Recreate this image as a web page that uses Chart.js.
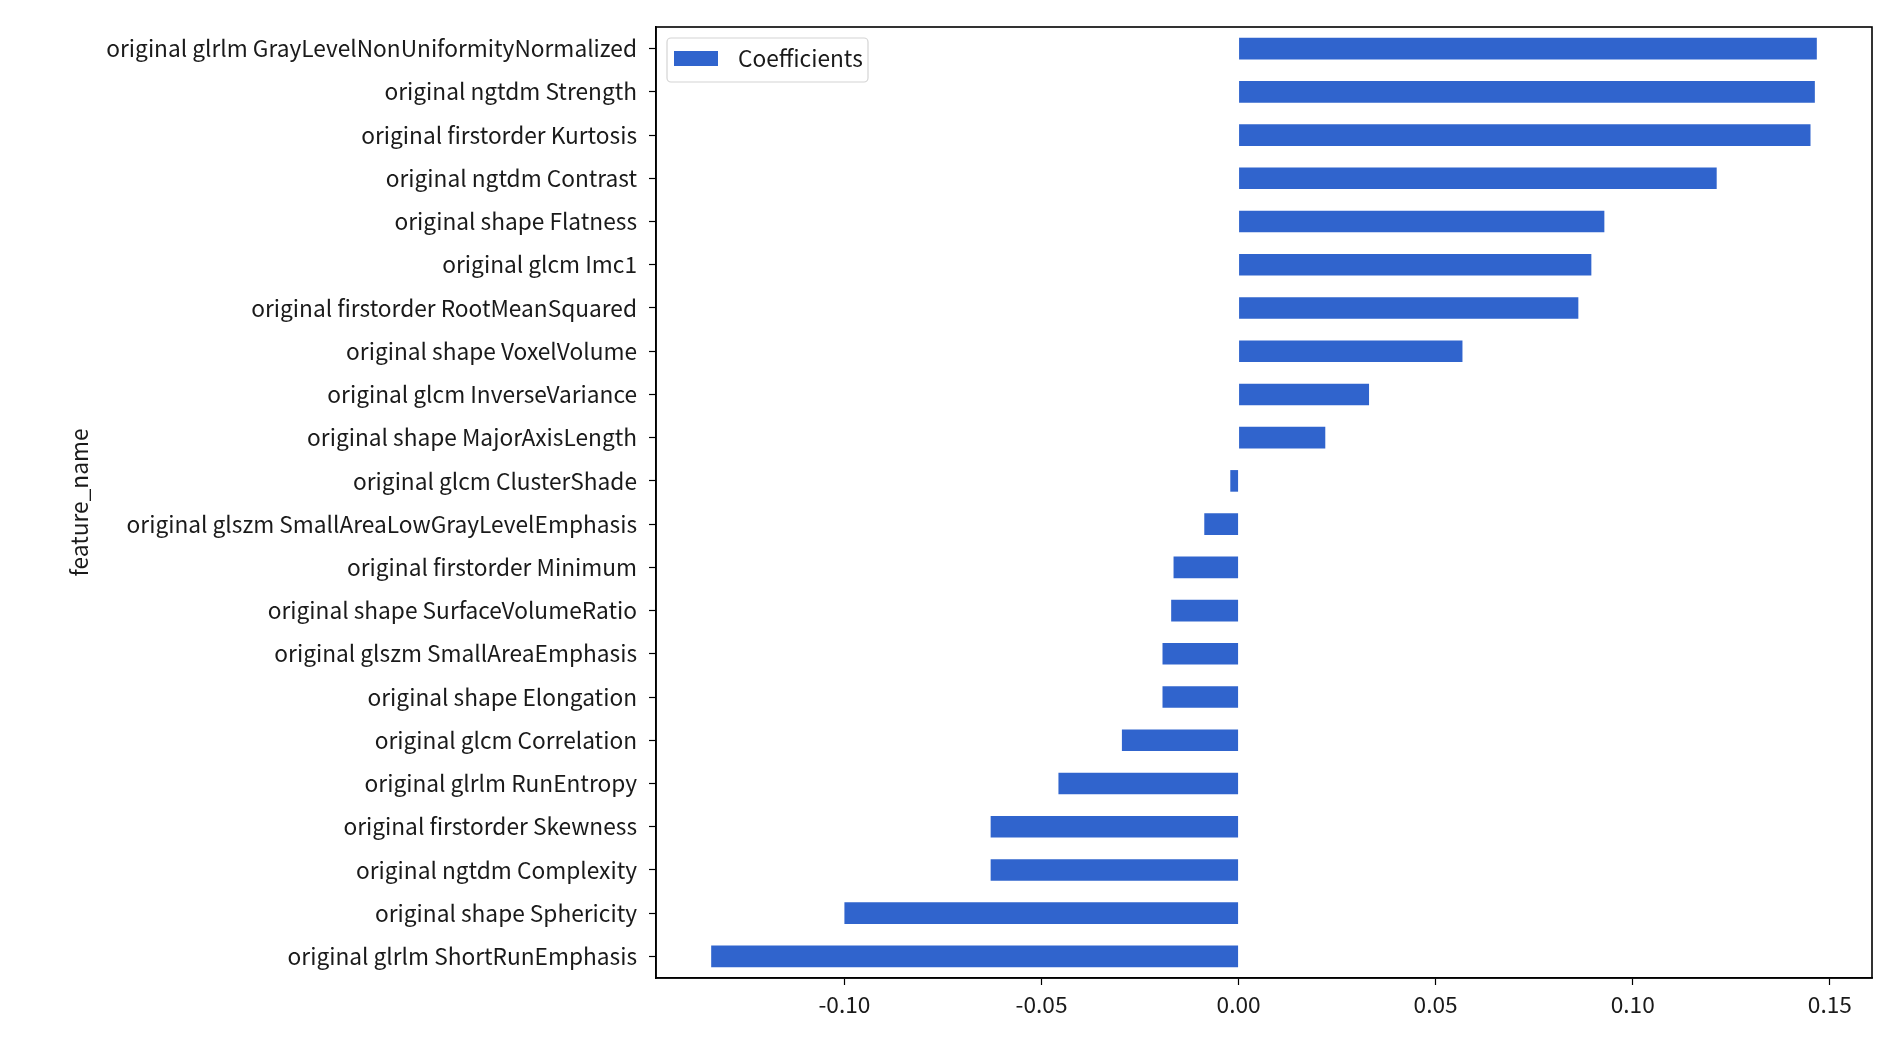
<!DOCTYPE html>
<html>
<head>
<meta charset="utf-8">
<script src="https://cdn.jsdelivr.net/npm/chart.js@4"></script>
<style>
  html, body { margin: 0; padding: 0; background: #ffffff; }
  #wrap { position: relative; width: 1890px; height: 1057px; }
</style>
</head>
<body>
<div id="wrap"><canvas id="c"></canvas></div>
<script>
const categories = [
  "original glrlm GrayLevelNonUniformityNormalized",
  "original ngtdm Strength",
  "original firstorder Kurtosis",
  "original ngtdm Contrast",
  "original shape Flatness",
  "original glcm Imc1",
  "original firstorder RootMeanSquared",
  "original shape VoxelVolume",
  "original glcm InverseVariance",
  "original shape MajorAxisLength",
  "original glcm ClusterShade",
  "original glszm SmallAreaLowGrayLevelEmphasis",
  "original firstorder Minimum",
  "original shape SurfaceVolumeRatio",
  "original glszm SmallAreaEmphasis",
  "original shape Elongation",
  "original glcm Correlation",
  "original glrlm RunEntropy",
  "original firstorder Skewness",
  "original ngtdm Complexity",
  "original shape Sphericity",
  "original glrlm ShortRunEmphasis"
];
const coefficients = [
  0.1467, 0.1462, 0.1451, 0.1213, 0.0928, 0.0895, 0.0862, 0.0568, 0.0331, 0.0220,
  -0.0021, -0.0087, -0.0165, -0.0171, -0.0193, -0.0193, -0.0296, -0.0457,
  -0.0629, -0.0629, -0.1000, -0.1338
];
const xTicks = [-0.10, -0.05, 0.00, 0.05, 0.10, 0.15];
const seriesName = "Coefficients";
const axisTitle = "feature_name";

const FONT_FAMILY = "'Noto Sans CJK KR', 'Noto Sans', sans-serif";
// choose font size so the longest label matches reference width (~532px)
const mc = document.createElement('canvas').getContext('2d');
mc.font = "18px " + FONT_FAMILY;
const w18 = mc.measureText(categories[0]).width;
const FONT_SIZE = Math.round(18 * 532 / w18 * 10) / 10;

const TEXT = '#1a1a1a';
const BAR = '#3064CD';

const framePlugin = {
  id: 'frame',
  afterDraw(chart) {
    const {ctx, chartArea: a} = chart;
    ctx.save();
    ctx.strokeStyle = '#000';
    ctx.lineWidth = 1.6;
    ctx.strokeRect(a.left, a.top, a.right - a.left, a.bottom - a.top);
    // legend
    const lx = a.left + 11, ly = a.top + 11, lw = 201, lh = 44;
    ctx.beginPath();
    const r = 4;
    ctx.moveTo(lx + r, ly);
    ctx.arcTo(lx + lw, ly, lx + lw, ly + lh, r);
    ctx.arcTo(lx + lw, ly + lh, lx, ly + lh, r);
    ctx.arcTo(lx, ly + lh, lx, ly, r);
    ctx.arcTo(lx, ly, lx + lw, ly, r);
    ctx.closePath();
    ctx.fillStyle = 'rgba(255,255,255,0.9)';
    ctx.fill();
    ctx.strokeStyle = '#d4d4d4';
    ctx.lineWidth = 1.2;
    ctx.stroke();
    ctx.fillStyle = BAR;
    ctx.fillRect(lx + 7, ly + 13, 44, 15);
    ctx.fillStyle = TEXT;
    ctx.font = FONT_SIZE + "px " + FONT_FAMILY;
    ctx.textBaseline = 'middle';
    ctx.textAlign = 'left';
    ctx.fillText(seriesName, lx + 71, ly + lh / 2 - 2);
    ctx.restore();
  }
};

new Chart(document.getElementById('c'), {
  type: 'bar',
  data: {
    labels: categories,
    datasets: [{
      label: seriesName,
      data: coefficients,
      backgroundColor: BAR,
      borderWidth: 0,
      barPercentage: 0.5,
      categoryPercentage: 1.0
    }]
  },
  plugins: [framePlugin],
  options: {
    indexAxis: 'y',
    responsive: true,
    maintainAspectRatio: false,
    animation: false,
    devicePixelRatio: 1,
    layout: { padding: { top: 27, right: 18, bottom: 0, left: 0 } },
    plugins: {
      legend: { display: false },
      tooltip: { enabled: false },
      title: { display: false }
    },
    scales: {
      x: {
        type: 'linear',
        min: -0.1478,
        max: 0.1607,
        afterBuildTicks(scale) { scale.ticks = xTicks.map(v => ({ value: v })); },
        afterFit(scale) { scale.height = 1057 - 978; },
        grid: { drawOnChartArea: false, drawTicks: true, tickLength: 7, color: '#000', tickWidth: 1.2 },
        border: { display: true, color: '#000', width: 1.6 },
        ticks: {
          color: TEXT,
          font: { family: FONT_FAMILY, size: FONT_SIZE },
          padding: 6,
          maxRotation: 0,
          callback: (v) => Number(v).toFixed(2)
        }
      },
      y: {
        type: 'category',
        afterFit(scale) { scale.width = 656; },
        grid: { offset: false, drawOnChartArea: false, drawTicks: true, tickLength: 7, color: '#000', tickWidth: 1.2 },
        border: { display: true, color: '#000', width: 1.6 },
        ticks: {
          color: TEXT,
          font: { family: FONT_FAMILY, size: FONT_SIZE },
          padding: 12,
          autoSkip: false
        },
        title: {
          display: true,
          text: axisTitle,
          color: TEXT,
          font: { family: FONT_FAMILY, size: FONT_SIZE },
          padding: { top: 66, bottom: 0 }
        }
      }
    }
  }
});
</script>
</body>
</html>
